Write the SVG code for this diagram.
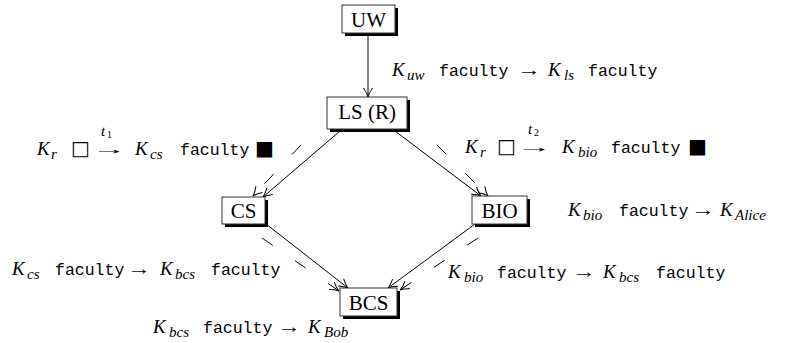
<svg xmlns="http://www.w3.org/2000/svg" width="786" height="343" viewBox="0 0 786 343">
<style>
.box{fill:#fff;stroke:#333;stroke-width:1}
.sh{fill:#000}
.nl{font-family:"Liberation Serif","Times New Roman",serif;font-size:21px;text-anchor:middle;fill:#000}
.k{font-family:"Liberation Serif","Times New Roman",serif;font-style:italic;font-size:19px;fill:#000}
.s{font-family:"Liberation Serif","Times New Roman",serif;font-style:italic;font-size:15px;fill:#000}
.n{font-family:"Liberation Serif","Times New Roman",serif;font-size:10px;fill:#000}
.tt{font-family:"Liberation Mono","Courier New",monospace;font-size:16.5px;fill:#000}
.ar{font-family:"Liberation Serif","DejaVu Serif",serif;font-size:19px;fill:#000}
.ar2{font-family:"Liberation Serif","DejaVu Serif",serif;font-size:15px;fill:#000}
.sq{font-family:"DejaVu Sans",sans-serif;font-size:20px;fill:#000}
.c{fill:none;stroke:#000;stroke-width:1}
.d{stroke-dasharray:13 27}
</style>
<defs>
<marker id="ah" viewBox="-11 -6 12 12" refX="0" refY="0" markerWidth="12" markerHeight="12" orient="auto" markerUnits="userSpaceOnUse">
<path d="M-9,-4.5 Q-4,-1 0,0 Q-4,1 -9,4.5" fill="none" stroke="#000" stroke-width="1" stroke-dasharray="none"/>
</marker>
</defs>

<g id="connectors">
<path class="c" d="M368,34 L368,97" marker-end="url(#ah)"/>
<path class="c" d="M340,131 L263,197" marker-end="url(#ah)"/>
<path class="c" d="M395,131 L481,196" marker-end="url(#ah)"/>
<path class="c" d="M266,224 L348,288" marker-end="url(#ah)"/>
<path class="c" d="M475,224 L388,288" marker-end="url(#ah)"/>
<path class="c d" d="M301,145 L253,196" marker-end="url(#ah)"/>
<path class="c d" d="M437,145 L488,196" marker-end="url(#ah)"/>
<path class="c d" d="M262,238 L339,291" marker-end="url(#ah)"/>
<path class="c d" d="M478,238 L400,290" marker-end="url(#ah)"/>
</g>

<g id="UW">
<rect class="sh" x="345" y="8" width="53" height="28"/>
<rect class="box" x="342" y="5" width="53" height="28"/>
<text class="nl" x="368.5" y="27">UW</text>
</g>
<g id="LS">
<rect class="sh" x="330" y="100" width="80" height="32"/>
<rect class="box" x="327" y="97" width="80" height="32"/>
<text class="nl" x="367" y="119">LS (R)</text>
</g>
<g id="CS">
<rect class="sh" x="225" y="200" width="43" height="27"/>
<rect class="box" x="222" y="197" width="43" height="27"/>
<text class="nl" x="243.5" y="218">CS</text>
</g>
<g id="BIO">
<rect class="sh" x="475" y="199" width="55" height="28"/>
<rect class="box" x="472" y="196" width="55" height="28"/>
<text class="nl" x="499.5" y="218">BIO</text>
</g>
<g id="BCS">
<rect class="sh" x="343" y="291" width="57" height="28"/>
<rect class="box" x="340" y="288" width="57" height="28"/>
<text class="nl" x="368.5" y="310">BCS</text>
</g>

<g id="labels">
<!-- UW -> LS -->
<text class="k" x="392" y="76">K</text>
<text class="s" x="407" y="80">uw</text>
<text class="tt" x="439" y="76">faculty</text>
<text class="ar" x="517" y="76" textLength="24" lengthAdjust="spacingAndGlyphs">→</text>
<text class="k" x="548" y="76">K</text>
<text class="s" x="564" y="80">ls</text>
<text class="tt" x="588" y="76">faculty</text>

<!-- left delegation -->
<text class="k" x="37" y="155">K</text>
<text class="s" x="51" y="159">r</text>
<text class="sq" x="71" y="155">□</text>
<text class="ar2" x="92" y="154" textLength="34" lengthAdjust="spacingAndGlyphs">→</text>
<text class="s" x="101" y="136">t</text>
<text class="n" x="107" y="138">1</text>
<text class="k" x="135" y="155">K</text>
<text class="s" x="150" y="159">cs</text>
<text class="tt" x="180" y="155">faculty</text>
<text class="sq" x="255" y="155">■</text>

<!-- right delegation -->
<text class="k" x="465" y="153">K</text>
<text class="s" x="480" y="157">r</text>
<text class="sq" x="497" y="153">□</text>
<text class="ar2" x="516" y="152" textLength="36" lengthAdjust="spacingAndGlyphs">→</text>
<text class="s" x="528" y="134">t</text>
<text class="n" x="534" y="136">2</text>
<text class="k" x="562" y="153">K</text>
<text class="s" x="578" y="157">bio</text>
<text class="tt" x="611" y="153">faculty</text>
<text class="sq" x="688" y="153">■</text>

<!-- BIO -> Alice -->
<text class="k" x="568" y="216">K</text>
<text class="s" x="583" y="220">bio</text>
<text class="tt" x="619" y="216">faculty</text>
<text class="ar" x="691" y="216" textLength="24" lengthAdjust="spacingAndGlyphs">→</text>
<text class="k" x="720" y="216">K</text>
<text class="s" x="735" y="220">Alice</text>

<!-- CS -> BCS -->
<text class="k" x="12" y="275">K</text>
<text class="s" x="27" y="279">cs</text>
<text class="tt" x="55" y="275">faculty</text>
<text class="ar" x="127" y="275" textLength="24" lengthAdjust="spacingAndGlyphs">→</text>
<text class="k" x="160" y="275">K</text>
<text class="s" x="175" y="279">bcs</text>
<text class="tt" x="211" y="275">faculty</text>

<!-- BIO -> BCS -->
<text class="k" x="448" y="278">K</text>
<text class="s" x="464" y="282">bio</text>
<text class="tt" x="497" y="278">faculty</text>
<text class="ar" x="572" y="278" textLength="24" lengthAdjust="spacingAndGlyphs">→</text>
<text class="k" x="603" y="278">K</text>
<text class="s" x="619" y="282">bcs</text>
<text class="tt" x="656" y="278">faculty</text>

<!-- BCS -> Bob -->
<text class="k" x="153" y="333">K</text>
<text class="s" x="169" y="337">bcs</text>
<text class="tt" x="203" y="333">faculty</text>
<text class="ar" x="277" y="333" textLength="24" lengthAdjust="spacingAndGlyphs">→</text>
<text class="k" x="308" y="333">K</text>
<text class="s" x="324" y="337">Bob</text>
</g>
</svg>
